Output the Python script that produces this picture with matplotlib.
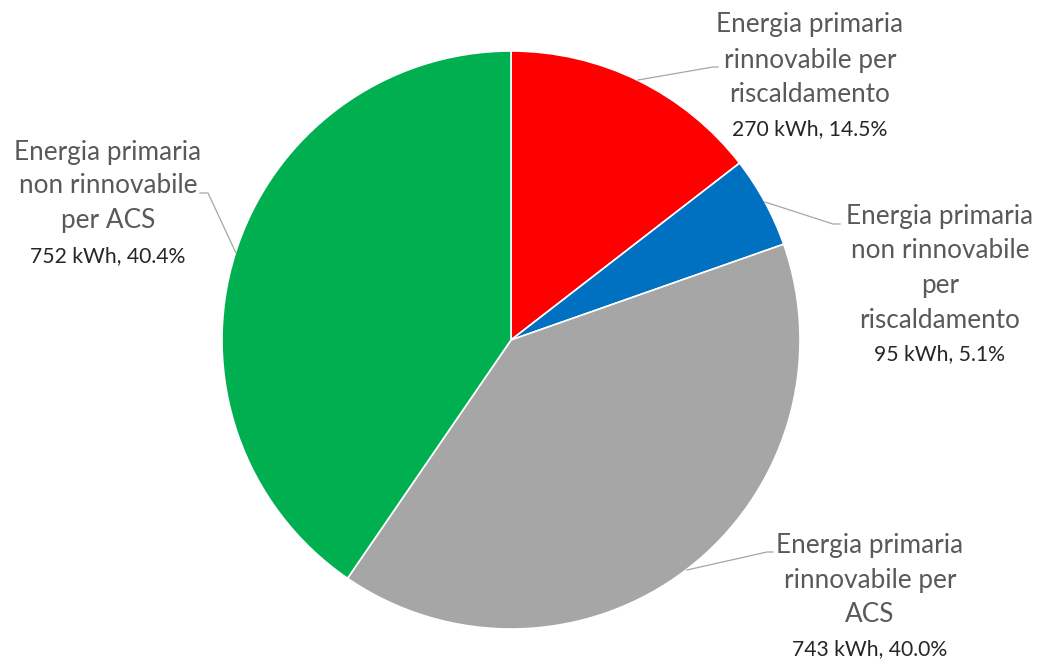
import matplotlib.pyplot as plt

plt.rcParams['font.family'] = ['Lato', 'DejaVu Sans']

# data
names = [
    "Energia primaria\nrinnovabile per\nriscaldamento",
    "Energia primaria\nnon rinnovabile\nper\nriscaldamento",
    "Energia primaria\nrinnovabile per\nACS",
    "Energia primaria\nnon rinnovabile\nper ACS",
]
kwh = [270, 95, 743, 752]
pct = [14.5, 5.1, 40.0, 40.4]
colors = ["#FF0000", "#0070C0", "#A6A6A6", "#00B050"]

W, H = 1041, 659
cx, cy, R = 511, 340, 289


def p(px, py):
    # pixel -> data coords (pie centre at origin, radius 1)
    return (px - cx) / R, (cy - py) / R


fig = plt.figure(figsize=(W / 100, H / 100), dpi=100)
ax = fig.add_axes([0, 0, 1, 1])
ax.pie(kwh, colors=colors, startangle=90, counterclock=False, radius=1,
       wedgeprops=dict(edgecolor="white", linewidth=1.2))
x0, y0 = p(0, H)
x1, y1 = p(W, 0)
ax.set_xlim(x0, x1)
ax.set_ylim(y0, y1)
ax.set_aspect('equal')
ax.axis('off')

# label layout: centre x, baselines of name lines, baseline of value line
layout = [
    (810, [32, 68, 102], 135),
    (940, [224, 258, 293, 328], 360),
    (870, [553, 588, 622], 655),
    (108, [160, 193, 228], 262),
]
leaders = [
    [(638, 80), (713, 67), (718, 67)],
    [(765, 202), (833, 224), (840, 224)],
    [(687, 570), (767, 552), (773, 552)],
    [(200, 193), (208, 193), (236, 253)],
]

for i, (lx, bases, vb) in enumerate(layout):
    for line, b in zip(names[i].split("\n"), bases):
        ax.text(*p(lx, b), line, ha='center', va='baseline',
                fontsize=18.8, color="#595959")
    ax.text(*p(lx, vb), f"{kwh[i]} kWh, {pct[i]:.1f}%", ha='center',
            va='baseline', fontsize=15.2, color="#262626")
    pts = [p(*q) for q in leaders[i]]
    ax.plot([q[0] for q in pts], [q[1] for q in pts], color="#A6A6A6", lw=0.9)

fig.savefig("out.png", dpi=100, facecolor="white")
